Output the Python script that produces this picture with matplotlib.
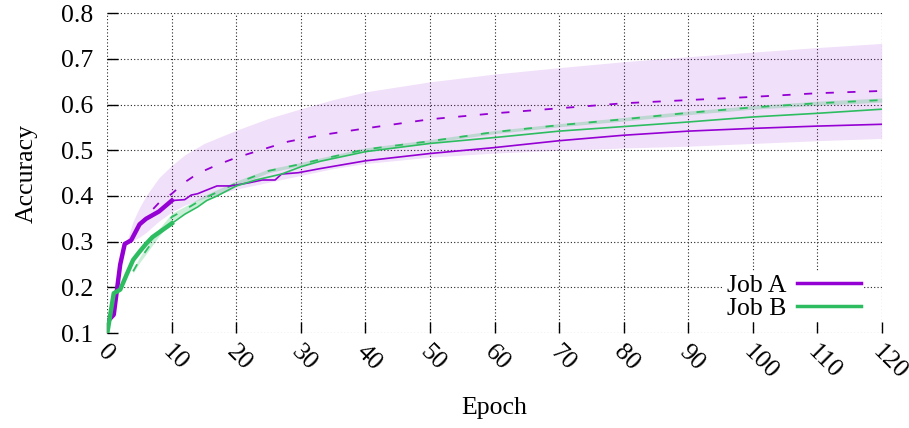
import matplotlib
matplotlib.use("Agg")
import matplotlib.pyplot as plt
from matplotlib.lines import Line2D
from matplotlib.transforms import ScaledTranslation
import numpy as np

# ---------------- data ----------------
# Job A observed (thick, first epochs)
a_obs_x = [0, 1, 1.5, 2, 2.7, 3.7, 5, 6, 7, 8, 9, 10]
a_obs_y = [0.125, 0.14, 0.195, 0.25, 0.295, 0.303, 0.338, 0.35, 0.358, 0.366, 0.378, 0.39]
# Job A actual continuation (thin)
a_rest_x = [10, 12, 13, 14, 15.4, 17, 19, 20, 22, 24, 26, 27, 29.6, 33, 40, 50, 60, 70, 80, 90, 100, 110, 120]
a_rest_y = [0.39, 0.392, 0.402, 0.405, 0.413, 0.422, 0.422, 0.424, 0.429, 0.435, 0.435, 0.448, 0.451,
            0.46, 0.477, 0.493, 0.506, 0.521, 0.533, 0.542, 0.548, 0.553, 0.557]
# Job A prediction (dashed) and band
a_pred_x = [5, 6, 8, 10, 12, 14, 17, 20, 25, 28, 33, 40, 50, 60, 70, 80, 90, 100, 110, 120]
a_pred_y = [0.335, 0.355, 0.385, 0.405, 0.43, 0.449, 0.468, 0.484, 0.506, 0.519, 0.533, 0.548,
            0.568, 0.581, 0.592, 0.603, 0.61, 0.617, 0.625, 0.63]
a_band_x = [3, 4, 5, 6, 8, 10, 12, 15, 20, 25, 30, 35, 40, 50, 60, 70, 80, 90, 100, 110, 120]
a_band_lo = [0.30, 0.302, 0.31, 0.32, 0.345, 0.365, 0.38, 0.395, 0.415, 0.43, 0.445, 0.46, 0.471,
             0.485, 0.494, 0.50, 0.505, 0.509, 0.515, 0.521, 0.526]
a_band_hi = [0.30, 0.345, 0.375, 0.40, 0.44, 0.467, 0.49, 0.515, 0.544, 0.570, 0.591, 0.611, 0.628,
             0.65, 0.667, 0.681, 0.694, 0.705, 0.715, 0.725, 0.734]

# Job B observed (thick)
b_obs_x = [0, 1, 2, 3, 4, 5, 6, 7, 8, 9, 10]
b_obs_y = [0.10, 0.187, 0.195, 0.228, 0.26, 0.278, 0.295, 0.31, 0.32, 0.33, 0.34]
# Job B continuation (thin)
b_rest_x = [10, 12, 14, 15.4, 17, 20, 23, 27, 30, 33, 40, 50, 60, 70, 80, 90, 100, 110, 120]
b_rest_y = [0.34, 0.36, 0.376, 0.39, 0.40, 0.422, 0.435, 0.448, 0.464, 0.476, 0.497, 0.515, 0.528,
            0.542, 0.552, 0.562, 0.573, 0.581, 0.59]
# Job B prediction (dashed) and band half-width
b_pred_x = [4, 5, 6, 8, 10, 12, 15, 20, 25, 30, 33, 40, 50, 60, 70, 80, 90, 100, 110, 120]
b_pred_y = [0.235, 0.26, 0.28, 0.32, 0.354, 0.37, 0.395, 0.428, 0.455, 0.47, 0.48, 0.502, 0.52,
            0.54, 0.555, 0.568, 0.582, 0.594, 0.603, 0.61]
b_band_w = [0.004, 0.006, 0.007, 0.008, 0.008, 0.007, 0.006, 0.005, 0.004, 0.0035, 0.0035, 0.0035,
            0.0035, 0.0035, 0.0035, 0.004, 0.004, 0.004, 0.0045, 0.0045]

legend_labels = ["Job A", "Job B"]
x_ticks = list(range(0, 121, 10))
y_ticks = [0.1, 0.2, 0.3, 0.4, 0.5, 0.6, 0.7, 0.8]

PURPLE = "#9400d3"
GREEN = "#2dbd60"
FS = 18.5

plt.rcParams["font.family"] = ["Liberation Serif", "DejaVu Serif"]
plt.rcParams["font.size"] = FS

fig = plt.figure(figsize=(9.09, 4.28), dpi=100)
ax = fig.add_axes([107.3 / 909, 1 - 333 / 428, (881.7 - 107.3) / 909, (333 - 13.3) / 428])

# bands
ax.fill_between(a_band_x, a_band_lo, a_band_hi, color=PURPLE, alpha=0.12, linewidth=0, zorder=2)
b_lo = np.array(b_pred_y) - np.array(b_band_w)
b_hi = np.array(b_pred_y) + np.array(b_band_w)
ax.fill_between(b_pred_x, b_lo, b_hi, color=GREEN, alpha=0.25, linewidth=0, zorder=2)

dash = (0, (4.5, 7.5))
ax.plot(a_pred_x, a_pred_y, color=PURPLE, lw=1.3, ls=dash, zorder=3)
ax.plot(b_pred_x, b_pred_y, color=GREEN, lw=1.3, ls=dash, zorder=3)

ax.plot(a_rest_x, a_rest_y, color=PURPLE, lw=1.2, zorder=4)
ax.plot(b_rest_x, b_rest_y, color=GREEN, lw=1.2, zorder=4)
ax.plot(a_obs_x, a_obs_y, color=PURPLE, lw=3.2, zorder=5, solid_joinstyle="round")
ax.plot(b_obs_x, b_obs_y, color=GREEN, lw=3.2, zorder=5, solid_joinstyle="round")

ax.set_xlim(0, 120)
ax.set_ylim(0.1, 0.8)
ax.set_xticks(x_ticks)
ax.set_yticks(y_ticks)
ax.set_yticklabels([f"{v:.1f}" for v in y_ticks])

for s in ax.spines.values():
    s.set_visible(False)
ax.grid(True, color="#222222", lw=0.8, ls=(0, (1, 2)))
ax.set_axisbelow(True)

ax.tick_params(axis="both", direction="in", length=8, width=1, color="black", labelsize=FS)
ax.tick_params(axis="y", pad=10)
ax.tick_params(axis="x", pad=11)

for lab in ax.get_xticklabels():
    lab.set_rotation(-45)
    lab.set_rotation_mode("anchor")
    lab.set_ha("left")
    lab.set_va("center")
    lab.set_transform(lab.get_transform() + ScaledTranslation(-6 / 100, 0, fig.dpi_scale_trans))

ax.set_xlabel("Epoch", fontsize=FS)
ax.set_ylabel("Accuracy", fontsize=FS)
ax.xaxis.set_label_coords(0.5, -0.2)
ax.yaxis.set_label_coords(-0.09, 0.5)

handles = [Line2D([], [], color=PURPLE, lw=2.5), Line2D([], [], color=GREEN, lw=2.5)]
leg = ax.legend(handles, legend_labels, loc="upper right",
                bbox_to_anchor=(864 / 909, 1 - 271 / 428), bbox_transform=fig.transFigure,
                markerfirst=False, frameon=True, facecolor="white", edgecolor="none",
                framealpha=1, fancybox=False, borderpad=0.1, labelspacing=0.0,
                handlelength=2.5, handletextpad=0.43, borderaxespad=0, fontsize=FS)
leg.set_zorder(6)

fig.savefig("out.png", dpi=100)
